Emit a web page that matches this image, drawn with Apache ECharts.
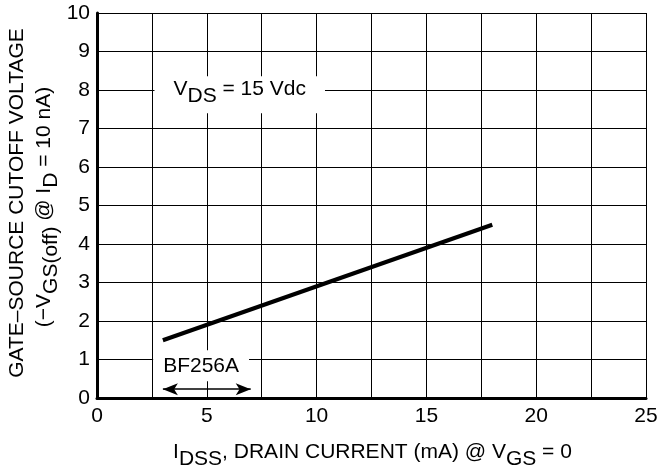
<!DOCTYPE html>
<html>
<head>
<meta charset="utf-8">
<script src="https://cdn.jsdelivr.net/npm/echarts@6/dist/echarts.min.js"></script>
<style>
  html, body { margin: 0; padding: 0; background: #fff; }
  #main { width: 660px; height: 469px; }
</style>
</head>
<body>
<div id="main"></div>
<script>
// I_DSS (mA) vs gate-source cutoff voltage (V), BF256A
const drainCurrent = [3, 18];
const cutoffVoltage = [1.5, 4.5];

const xRange = [0, 25];
const yRange = [0, 10];
const xGridStep = 2.5;   // vertical grid lines
const xLabelStep = 5;    // labelled ticks
const yGridStep = 1;

// BF256A range arrow (mA)
const rangeArrow = [3, 7];

const FONT = "'Liberation Sans', Arial, Helvetica, sans-serif";
const FS = 21;

// rich styles: same-size subscript pushed down with top padding
function richStyles(colorKey) {
    const m = { fontSize: FS, fontFamily: FONT, verticalAlign: 'top' };
    const s = { fontSize: FS, fontFamily: FONT, verticalAlign: 'top', padding: [7, 0, 0, 0] };
    m[colorKey] = '#000';
    s[colorKey] = '#000';
    return { m: m, s: s };
}

const chart = echarts.init(document.getElementById('main'));

const points = drainCurrent.map((x, i) => [x, cutoffVoltage[i]]);

chart.setOption({
    animation: false,
    backgroundColor: '#fff',
    textStyle: { fontFamily: FONT, color: '#000' },
    grid: {
        left: 97, top: 13, right: 14, bottom: 71,
        containLabel: false,
        outerBoundsMode: 'none'
    },
    xAxis: {
        type: 'value',
        min: xRange[0], max: xRange[1], interval: xGridStep,
        axisLine: { show: true, onZero: false, lineStyle: { color: '#000', width: 3 } },
        axisTick: { show: false },
        axisLabel: {
            color: '#000', fontSize: FS, fontFamily: FONT, margin: 8,
            formatter: v => (v % xLabelStep === 0 ? String(v) : '')
        },
        splitLine: { show: true, lineStyle: { color: '#000', width: 1 } }
    },
    yAxis: {
        type: 'value',
        min: yRange[0], max: yRange[1], interval: yGridStep,
        axisLine: { show: true, onZero: false, lineStyle: { color: '#000', width: 3 } },
        axisTick: { show: false },
        axisLabel: { color: '#000', fontSize: FS, fontFamily: FONT, margin: 7 },
        splitLine: { show: true, lineStyle: { color: '#000', width: 1 } }
    },
    series: [{
        type: 'line',
        data: points,
        symbol: 'none',
        silent: true,
        lineStyle: { color: '#000', width: 4 },
        markLine: {
            silent: true,
            symbol: ['arrow', 'arrow'],
            symbolSize: 12,
            label: { show: false },
            emphasis: { disabled: true },
            lineStyle: { color: '#000', width: 1.5, type: 'solid' },
            data: [[
                { coord: [rangeArrow[0], 0.23], symbol: 'arrow', symbolSize: [9, 15] },
                { coord: [rangeArrow[1], 0.23], symbol: 'arrow', symbolSize: [9, 15] }
            ]]
        },
        markPoint: {
            silent: true,
            symbol: 'rect',
            symbolSize: 0,
            label: {
                show: true, position: 'inside', color: '#000',
                fontSize: FS, fontFamily: FONT, backgroundColor: '#fff'
            },
            data: [
                {
                    coord: [6.5, 7.875],
                    label: {
                        formatter: '{m|V}{s|DS}{m| = 15 Vdc}',
                        rich: richStyles('color'),
                        padding: [2, 19, 7, 19]
                    }
                },
                {
                    coord: [4.74, 0.836],
                    label: {
                        formatter: 'BF256A',
                        lineHeight: 21,
                        padding: [8, 10, 2, 10]
                    }
                }
            ]
        }
    }],
    graphic: [
        {
            type: 'text', x: 17, y: 203, rotation: Math.PI / 2, silent: true,
            style: {
                text: 'GATE–SOURCE CUTOFF VOLTAGE',
                fontSize: FS, fontFamily: FONT, fill: '#000',
                textAlign: 'center', textVerticalAlign: 'middle',
                align: 'center', verticalAlign: 'middle'
            }
        },
        {
            type: 'text', x: 47.5, y: 207, rotation: Math.PI / 2, silent: true,
            style: {
                text: '{m|(−V}{s|GS(off)}{m| @ I}{s|D}{m| = 10 nA)}',
                rich: richStyles('fill'),
                fontSize: FS, fontFamily: FONT, fill: '#000',
                textAlign: 'center', textVerticalAlign: 'middle',
                align: 'center', verticalAlign: 'middle'
            }
        },
        {
            type: 'text', x: 372.5, y: 455.5, silent: true,
            style: {
                text: '{m|I}{s|DSS}{m|, DRAIN CURRENT (mA) @ V}{s|GS}{m| = 0}',
                rich: richStyles('fill'),
                fontSize: FS, fontFamily: FONT, fill: '#000',
                textAlign: 'center', textVerticalAlign: 'middle',
                align: 'center', verticalAlign: 'middle'
            }
        }
    ]
});
</script>
</body>
</html>
